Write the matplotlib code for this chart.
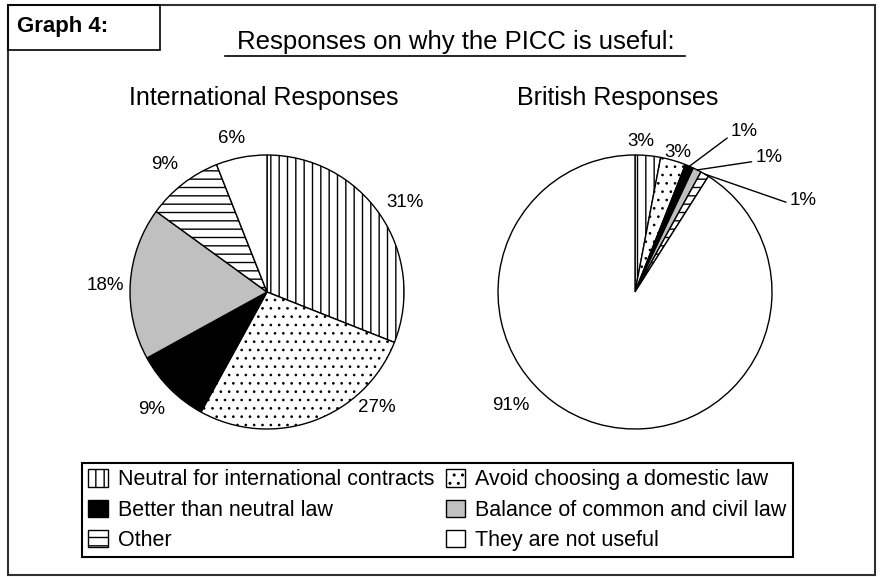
import matplotlib
matplotlib.use('Agg')
import matplotlib.pyplot as plt
import numpy as np

plt.rcParams['font.family'] = ['Liberation Sans', 'DejaVu Sans']
plt.rcParams['hatch.linewidth'] = 1.0

# data
categories = ['Neutral for international contracts', 'Avoid choosing a domestic law',
              'Better than neutral law', 'Balance of common and civil law',
              'Other', 'They are not useful']
intl_pct = [31, 27, 9, 18, 9, 6]
brit_pct = [3, 3, 1, 1, 1, 91]

# look of each slice (same order as categories)
face_colors = ['white', 'white', 'black', '#c0c0c0', 'white', 'white']
hatches = ['||', '..', '', '', '--', '']

# where the % labels sit, in pie radius units
intl_label_pos = [(1.01, 0.65), (0.80, -0.84), (-0.84, -0.86),
                  (-1.18, 0.05), (-0.75, 0.93), (-0.26, 1.12)]
brit_label_pos = [(0.04, 1.10), (0.31, 1.02), (0.80, 1.17),
                  (0.98, 0.98), (1.23, 0.67), (-0.91, -0.83)]
brit_leader = [False, False, True, True, True, False]

W, H = 880, 577
fig = plt.figure(figsize=(W / 100, H / 100), dpi=100)

# background axes in pixel units for frames and titles
bg = fig.add_axes([0, 0, 1, 1])
bg.set_xlim(0, W)
bg.set_ylim(H, 0)
bg.axis('off')

bg.add_patch(plt.Rectangle((8, 5), 867, 570, fill=False, ec='#303030', lw=1.5))
bg.add_patch(plt.Rectangle((8, 5), 152, 45, fill=False, ec='black', lw=1.2))
bg.text(17, 32, 'Graph 4:', fontsize=16, fontweight='bold', va='baseline')
bg.text(456, 49, 'Responses on why the PICC is useful:', fontsize=18.5,
        ha='center', va='baseline')
bg.plot([225, 685], [56, 56], color='black', lw=1.2)
bg.text(264, 105, 'International Responses', fontsize=18, ha='center', va='baseline')
bg.text(618, 105, 'British Responses', fontsize=18, ha='center', va='baseline')


def pie_axes(cx, cy, r):
    ax = fig.add_axes([(cx - r) / W, (H - cy - r) / H, 2 * r / W, 2 * r / H])
    return ax


def draw_pie(ax, values, label_pos, leaders=None):
    wedges, _ = ax.pie(values, startangle=90, counterclock=False, colors=face_colors,
                       wedgeprops=dict(edgecolor='black', linewidth=1.0))
    for w, h in zip(wedges, hatches):
        w.set_hatch(h)
        if h == '..' and hasattr(w, 'set_hatch_linewidth'):
            w.set_hatch_linewidth(0.7)
    ax.set_xlim(-1, 1)
    ax.set_ylim(-1, 1)
    ax.set_aspect('equal')
    total = float(sum(values))
    cum = np.cumsum([0] + list(values))
    for i, v in enumerate(values):
        txt = f'{v}%'
        if leaders is not None and leaders[i]:
            mid = np.deg2rad(90 - 360 * (cum[i] + v / 2) / total)
            ax.annotate(txt, xy=(np.cos(mid), np.sin(mid)), xytext=label_pos[i],
                        ha='center', va='center', fontsize=13.5, annotation_clip=False,
                        arrowprops=dict(arrowstyle='-', color='black', lw=1.0,
                                        relpos=(0, 0.3), shrinkA=1, shrinkB=0))
        else:
            ax.text(*label_pos[i], txt, ha='center', va='center', fontsize=13.5)
    return wedges


ax1 = pie_axes(267, 292, 137)
wedges = draw_pie(ax1, intl_pct, intl_label_pos)
ax2 = pie_axes(635, 292, 137)
draw_pie(ax2, brit_pct, brit_label_pos, brit_leader)

order = [0, 2, 4, 1, 3, 5]
leg = bg.legend([wedges[i] for i in order], [categories[i] for i in order],
                ncol=2, loc='upper left', bbox_to_anchor=(82, 463),
                bbox_transform=bg.transData, borderaxespad=0,
                fontsize=15.5, handlelength=0.9, handleheight=0.85,
                handletextpad=0.45, labelspacing=0.42, borderpad=0.3,
                columnspacing=0.55, fancybox=False, framealpha=1,
                edgecolor='black')
leg.get_frame().set_linewidth(1.5)

fig.savefig('out.png', dpi=100)
